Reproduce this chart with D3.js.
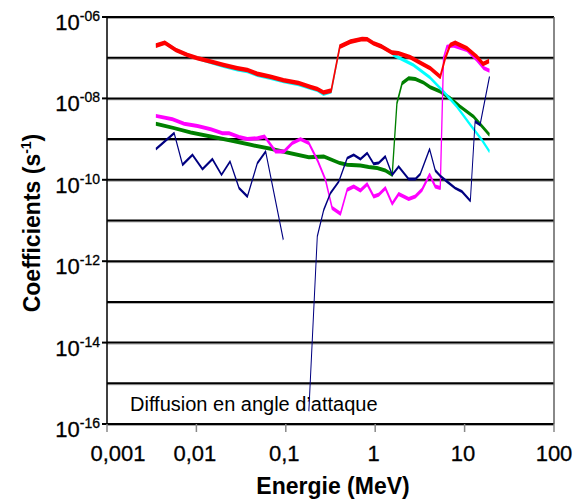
<!DOCTYPE html>
<html><head><meta charset="utf-8">
<script src="https://cdn.jsdelivr.net/npm/d3@7"></script>
<style>
body{margin:0;background:#fff}
text{font-family:Arial,"Liberation Sans",Helvetica,sans-serif;fill:#000}
</style>
</head><body>
<svg id="c" width="575" height="499"></svg>
<script>
// ---- data ----
const xTicks = [0.001, 0.01, 0.1, 1, 10, 100];
const xTickLabels = ["0,001", "0,01", "0,1", "1", "10", "100"];
const yGridValues = [1e-6, 1e-7, 1e-8, 1e-9, 1e-10, 1e-11, 1e-12, 1e-13, 1e-14, 1e-15, 1e-16];
const yTickExps = [-6, -8, -10, -12, -14, -16];
const xTitle = "Energie (MeV)";
const yTitle = "Coefficients (s";
const yTitleSup = "-1";
const note = "Diffusion en angle d\u2019attaque";

const redE = [0.00352,0.00443,0.00589,0.00796,0.0103,0.0137,0.0202,0.0288,0.0372,0.0481,0.0676,0.0945,0.139,0.189,0.225,0.264,0.322,0.402,0.529,0.714,0.813,0.955,1.19,1.55,1.82,2.47,3.04,4.13,5.34,6.07,6.90,7.85,10.6,13.7,16.1,18.8];
const redV = [1.98e-7,2.34e-7,1.55e-7,1.17e-7,9.7e-8,8.3e-8,6.6e-8,5.5e-8,5.0e-8,4.0e-8,3.4e-8,2.8e-8,2.4e-8,1.9e-8,1.7e-8,1.39e-8,1.55e-8,1.87e-7,2.48e-7,2.88e-7,2.84e-7,2.26e-7,1.87e-7,1.33e-7,1.29e-7,1.03e-7,8.0e-8,5.5e-8,3.4e-8,9.7e-8,2.06e-7,2.34e-7,1.71e-7,1.06e-7,7.0e-8,8.3e-8];

const cyanE = [0.00352,0.00443,0.00589,0.00796,0.0103,0.0137,0.0202,0.0288,0.0372,0.0481,0.0676,0.0945,0.139,0.189,0.225,0.264,0.322,0.402,0.529,0.714,0.813,0.955,1.19,1.55,1.60,2.67,4.13,5.81,8.20,11.6,15.6,19.0];
const cyanV = [1.98e-7,2.34e-7,1.55e-7,1.17e-7,9.7e-8,8.0e-8,6.2e-8,5.1e-8,4.6e-8,3.7e-8,3.15e-8,2.6e-8,2.2e-8,1.78e-8,1.58e-8,1.27e-8,1.45e-8,1.87e-7,2.48e-7,2.88e-7,2.84e-7,2.26e-7,1.87e-7,1.33e-7,1.17e-7,6.6e-8,3.2e-8,1.47e-8,6.3e-9,2.24e-9,9.6e-10,4.9e-10];

const magentaE = [0.00352,0.00541,0.00729,0.0103,0.0145,0.0196,0.0232,0.030,0.0372,0.0481,0.058,0.0769,0.0952,0.118,0.146,0.181,0.225,0.278,0.330,0.409,0.486,0.575,0.684,0.813,0.962,1.09,1.30,1.55,1.83,2.37,2.81,3.34,4.06,4.70,5.34,5.81,6.34,7.46,10.6,13.7,16.3,19.0];
const magentaV = [3.72e-9,3.09e-9,2.37e-9,2.11e-9,1.75e-9,1.40e-9,1.40e-9,1.12e-9,1.01e-9,1.05e-9,1.16e-9,4.94e-10,4.94e-10,7.96e-10,1.0e-9,7.96e-10,3.1e-10,1.0e-10,2.02e-11,1.47e-11,5.69e-11,6.85e-11,5.46e-11,7.84e-11,3.89e-11,4.28e-11,6.25e-11,2.58e-11,4.46e-11,3.36e-11,3.89e-11,5.69e-11,1.33e-10,6.85e-11,6.25e-11,9.7e-8,1.87e-7,2.0e-7,1.55e-7,8.8e-8,5.6e-8,4.8e-8];

const greenE = [0.00352,0.00564,0.00866,0.0145,0.0242,0.0405,0.0676,0.113,0.181,0.266,0.402,0.486,0.684,0.846,1.05,1.30,1.55,1.75,2.0,2.37,2.81,3.47,4.13,5.34,6.90,8.93,12.6,19.0];
const greenV = [2.37e-9,1.86e-9,1.45e-9,1.16e-9,9.2e-10,7.23e-10,5.77e-10,4.52e-10,3.6e-10,3.73e-10,2.57e-10,2.34e-10,2.25e-10,2.05e-10,1.94e-10,1.69e-10,1.33e-10,7.62e-9,2.36e-8,3.13e-8,3.01e-8,2.44e-8,1.88e-8,1.47e-8,1.01e-8,6.29e-9,3.57e-9,1.27e-9];

const blueE = [0.00352,0.00564,0.0070,0.00904,0.0117,0.0151,0.0191,0.0238,0.030,0.0372,0.0481,0.0595,0.0938,0.13,0.181,0.225,0.266,0.316,0.392,0.486,0.575,0.684,0.813,0.962,1.09,1.30,1.55,1.83,2.37,2.81,3.19,4.06,4.70,5.34,6.34,7.85,9.33,11.6,13.1,14.9,19.0];
const blueV = [5.67e-10,1.40e-9,2.34e-10,4.10e-10,1.83e-10,3.22e-10,1.33e-10,2.81e-10,6.25e-11,3.89e-11,2.57e-10,4.94e-10,3.37e-12,null,2.06e-16,4.06e-12,1.84e-11,4.72e-11,9.08e-11,3.41e-10,4.10e-10,3.22e-10,4.52e-10,2.47e-10,2.57e-10,3.73e-10,1.33e-10,2.12e-10,1.04e-10,1.04e-10,1.38e-10,5.67e-10,1.69e-10,1.25e-10,9.08e-11,6.25e-11,5.16e-11,3.05e-11,2.70e-9,2.24e-9,3.43e-8];

// drawing order: first drawn = bottom
const series = [
  {E: greenE,   V: greenV,   color: "#008000", w: 4.0},
  {E: cyanE,    V: cyanV,    color: "#00FFFF", w: 3.6},
  {E: magentaE, V: magentaV, color: "#FF00FF", w: 4.0},
  {E: redE,     V: redV,     color: "#FF0000", w: 4.6},
  {E: blueE,    V: blueV,    color: "#000080", w: 3.0}
];

// ---- layout ----
const L = 107, R = 554, T = 17, B = 424;
const K = 3; // horizontal compression of line strokes (steep segments look thin)
const svg = d3.select("#c");
svg.append("rect").attr("width",575).attr("height",499).attr("fill","#fff");

const x = d3.scaleLog().domain([0.001, 100]).range([L, R]);
const xs = d3.scaleLog().domain([0.001, 100]).range([L*K, R*K]);
const y = d3.scaleLog().domain([1e-16, 1e-6]).range([B, T]);

// gridlines
const grid = svg.append("g");
yGridValues.forEach(v => {
  grid.append("line").attr("x1", L).attr("x2", R).attr("y1", y(v)+1.4).attr("y2", y(v)+1.4)
    .attr("stroke", "#a0a0a0").attr("stroke-width", 1);
  grid.append("line").attr("x1", L).attr("x2", R).attr("y1", y(v)).attr("y2", y(v))
    .attr("stroke", "#000").attr("stroke-width", 2);
});
// right border
svg.append("line").attr("x1", R).attr("x2", R).attr("y1", T).attr("y2", B)
  .attr("stroke", "#606060").attr("stroke-width", 1.5);
// left axis
svg.append("line").attr("x1", L).attr("x2", L).attr("y1", T-1).attr("y2", B+1)
  .attr("stroke", "#000").attr("stroke-width", 1.5);
// y ticks + labels
yTickExps.forEach(e => {
  const yy = y(Math.pow(10, e));
  svg.append("line").attr("x1", L-5).attr("x2", L).attr("y1", yy).attr("y2", yy)
    .attr("stroke", "#000").attr("stroke-width", 2);
  const t = svg.append("text").attr("x", 100).attr("y", yy + 13)
    .attr("text-anchor", "end").attr("font-size", 22)
    .attr("stroke", "#000").attr("stroke-width", 0.3);
  t.append("tspan").text("10");
  t.append("tspan").attr("font-size", 14).attr("dy", -9)
    .text("-" + String(Math.abs(e)).padStart(2, "0"));
});
// x ticks + labels
xTicks.forEach((v, i) => {
  svg.append("line").attr("x1", x(v)).attr("x2", x(v)).attr("y1", B).attr("y2", B+8)
    .attr("stroke", "#888").attr("stroke-width", 1.5);
  svg.append("text").attr("x", x(v) + (i === 0 ? 11 : (i === 5 ? 0 : -1.5))).attr("y", 461)
    .attr("text-anchor", "middle").attr("font-size", 22)
    .attr("stroke", "#000").attr("stroke-width", 0.3).text(xTickLabels[i]);
});

// note
svg.append("text").attr("x", 130).attr("y", 411).attr("font-size", 20).text(note);

// series lines
const lg = svg.append("g").attr("transform", `scale(${1/K},1)`);
const line = d3.line().defined(d => d[1] != null).x(d => xs(d[0])).y(d => y(d[1]));
series.forEach(s => {
  const pts = s.E.map((e, i) => [e, s.V[i]]);
  lg.append("path").attr("d", line(pts)).attr("fill", "none")
    .attr("stroke", s.color).attr("stroke-width", s.w)
    .attr("stroke-linejoin", "round").attr("stroke-linecap", "butt");
});

// titles
svg.append("text").attr("x", 333).attr("y", 494).attr("text-anchor", "middle")
  .attr("font-size", 23).attr("font-weight", "bold").text(xTitle);
const yt = svg.append("text").attr("transform", "translate(40,223) rotate(-90)")
  .attr("text-anchor", "middle").attr("font-size", 23).attr("font-weight", "bold");
yt.append("tspan").text(yTitle);
yt.append("tspan").attr("font-size", 14).attr("dy", -9).text(yTitleSup);
yt.append("tspan").attr("dy", 9).text(")");
</script>
</body></html>
